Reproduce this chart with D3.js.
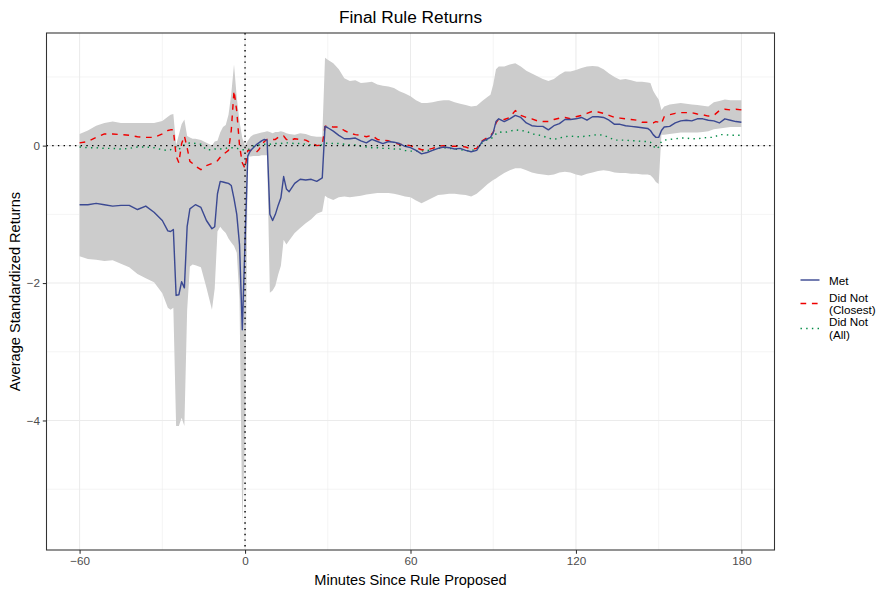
<!DOCTYPE html>
<html>
<head>
<meta charset="utf-8">
<script src="https://cdn.jsdelivr.net/npm/d3@7"></script>
<style>
  body { margin: 0; background: #ffffff; }
  svg { display: block; }
  text { font-family: "Liberation Sans", Arial, Helvetica, sans-serif; }
</style>
</head>
<body>
<svg id="chart" width="885" height="594"></svg>
<script>
// Minutes relative to the rule proposal
const minutes = [
  -60,-57,-54,-51,-48,-45,-42,-39,-36,-33,-30,
  -28,-27,-26,-25,-24,-23,-22,-21,-20,-19,-18,
  -16,-14,-12,
  -11,-10,-9,-8,-7,-6,-5,-4,-3,-2,-1,0,
  1,2,3,4,5,6,7,8,9,10,11,12,13,14,15,16,
  18,20,22,24,26,28,
  29,
  30,32,34,36,38,40,42,44,46,48,50,52,54,56,58,60,62,64,66,68,70,72,74,76,78,80,82,84,86,88,
  89,90,91,92,
  94,96,98,100,102,104,106,108,110,112,114,116,118,120,122,124,126,128,130,132,134,136,138,140,142,144,146,
  147,148,149,150,151,
  152,154,156,158,160,162,164,166,168,170,172,174,176,178,180
];

// Average standardized returns: rule thresholds met
const met = [
  -0.86,-0.86,-0.84,-0.86,-0.88,-0.87,-0.87,-0.93,-0.88,-0.97,-1.09,
  -1.24,-1.25,-1.22,-2.18,-2.17,-1.98,-2.07,-1.18,-0.92,-0.89,-0.86,
  -0.90,-1.09,-1.21,
  -1.18,-0.70,-0.52,-0.53,-0.54,-0.55,-0.58,-0.77,-1.00,-1.44,-2.68,-1.40,
  -0.15,-0.07,-0.03,0.01,0.04,0.07,0.09,0.08,-1.00,-1.09,-1.00,-0.87,-0.76,-0.45,-0.63,-0.67,
  -0.55,-0.49,-0.50,-0.49,-0.52,-0.47,
  0.28,
  0.26,0.21,0.15,0.10,0.10,0.11,0.07,0.04,0.09,0.06,0.03,0.06,0.05,0.03,-0.01,-0.03,-0.07,-0.12,-0.10,-0.07,-0.04,-0.02,-0.03,-0.05,-0.04,-0.07,-0.09,-0.07,0.06,0.10,
  0.12,0.19,0.35,0.39,
  0.35,0.39,0.44,0.41,0.33,0.29,0.28,0.28,0.23,0.29,0.32,0.38,0.38,0.39,0.41,0.37,0.42,0.42,0.41,0.37,0.31,0.31,0.29,0.28,0.27,0.26,0.25,
  0.22,0.16,0.12,0.12,0.22,
  0.27,0.28,0.33,0.36,0.37,0.36,0.39,0.39,0.37,0.36,0.33,0.39,0.37,0.35,0.34
];

// Did not meet: closest comparison group
const closest = [
  0.04,0.06,0.12,0.17,0.17,0.16,0.15,0.13,0.12,0.12,0.17,
  0.22,0.23,0.23,-0.15,-0.25,0.03,0.14,-0.03,-0.23,-0.26,-0.30,
  -0.35,-0.29,-0.26,
  -0.25,-0.22,-0.17,-0.13,-0.10,-0.07,0.22,0.80,0.50,0.00,-0.25,-0.33,
  -0.07,-0.07,-0.09,-0.10,-0.06,0.01,0.06,0.09,0.08,0.09,0.09,0.12,0.12,0.14,0.09,0.07,
  0.10,0.09,0.08,0.04,0.00,0.01,
  0.28,
  0.29,0.27,0.27,0.22,0.18,0.16,0.15,0.13,0.15,0.09,0.08,0.07,0.04,0.02,0.01,0.00,-0.03,-0.06,-0.06,-0.04,-0.01,0.00,-0.01,-0.01,-0.01,-0.02,-0.05,-0.04,0.07,0.12,
  0.15,0.19,0.33,0.39,
  0.38,0.41,0.51,0.44,0.41,0.39,0.36,0.35,0.35,0.38,0.40,0.41,0.39,0.42,0.44,0.47,0.50,0.49,0.47,0.44,0.41,0.40,0.39,0.38,0.37,0.34,0.34,
  0.33,0.33,0.35,0.34,0.32,
  0.42,0.45,0.47,0.48,0.48,0.48,0.46,0.45,0.43,0.44,0.51,0.53,0.52,0.53,0.52
];

// Did not meet: all other cases
const allOthers = [
  -0.02,-0.03,-0.03,-0.04,-0.04,-0.05,-0.04,-0.02,-0.02,-0.03,-0.06,
  -0.07,-0.06,-0.03,-0.02,-0.06,-0.01,0.01,0.03,0.04,0.04,0.03,
  0.02,-0.06,-0.06,
  -0.05,-0.05,-0.05,-0.04,-0.04,-0.03,-0.03,-0.03,-0.04,-0.05,-0.06,-0.06,
  -0.06,-0.04,-0.01,0.00,0.01,0.01,0.02,0.02,0.02,0.03,0.03,0.03,0.03,0.04,0.04,0.04,
  0.03,0.03,0.02,0.01,0.01,0.01,
  0.03,
  0.04,0.03,0.03,0.02,0.01,0.01,-0.01,-0.02,-0.03,-0.03,-0.04,-0.04,-0.05,-0.05,-0.07,-0.08,-0.08,-0.08,-0.07,-0.06,-0.04,-0.03,-0.04,-0.05,-0.06,-0.07,-0.08,-0.04,0.04,0.09,
  0.10,0.12,0.17,0.20,
  0.19,0.21,0.23,0.22,0.21,0.17,0.16,0.14,0.11,0.09,0.11,0.13,0.14,0.13,0.13,0.14,0.15,0.16,0.15,0.12,0.08,0.08,0.08,0.07,0.07,0.06,0.06,
  0.05,0.00,-0.05,-0.02,0.06,
  0.08,0.09,0.10,0.11,0.11,0.10,0.10,0.11,0.12,0.12,0.16,0.16,0.15,0.15,0.15
];

// Confidence band around the "Met" series
const bandHigh = [
  0.17,0.22,0.29,0.33,0.35,0.33,0.33,0.33,0.33,0.33,0.36,
  0.42,0.45,0.46,0.01,0.16,0.31,0.38,0.14,0.12,0.10,0.10,
  0.08,0.04,0.00,
  0.06,0.07,0.19,0.27,0.30,0.45,0.75,1.18,0.70,0.35,0.11,0.00,
  0.07,0.13,0.16,0.17,0.18,0.19,0.20,0.21,0.20,0.18,0.20,0.20,0.21,0.20,0.18,0.17,
  0.16,0.18,0.17,0.14,0.13,0.13,
  1.28,
  1.25,1.20,1.11,0.98,0.94,0.95,0.91,0.92,0.93,0.89,0.87,0.86,0.84,0.79,0.76,0.72,0.66,0.62,0.62,0.63,0.65,0.66,0.66,0.63,0.61,0.59,0.57,0.58,0.65,0.71,
  0.74,0.89,1.11,1.15,
  1.15,1.18,1.20,1.15,1.09,1.05,1.01,0.97,0.94,0.97,1.03,1.08,1.08,1.10,1.13,1.15,1.16,1.15,1.11,1.05,1.00,0.96,0.97,0.95,0.93,0.93,0.92,
  0.91,0.80,0.73,0.67,0.52,
  0.57,0.60,0.61,0.62,0.61,0.60,0.59,0.58,0.57,0.63,0.65,0.67,0.66,0.66,0.66
];

const bandLow = [
  -1.61,-1.65,-1.66,-1.68,-1.67,-1.72,-1.77,-1.87,-1.93,-1.99,-2.15,
  -2.36,-2.39,-2.36,-4.08,-4.08,-3.96,-4.08,-2.40,-1.76,-1.73,-1.74,
  -1.77,-2.07,-2.39,
  -2.08,-1.25,-1.18,-1.23,-1.27,-1.35,-1.41,-1.46,-1.56,-2.24,-5.53,-4.20,
  -0.16,-0.16,-0.15,-0.15,-0.15,-0.14,-0.14,-0.14,-2.14,-2.11,-2.04,-1.88,-1.75,-1.37,-1.44,-1.38,
  -1.27,-1.20,-1.13,-1.07,-0.99,-0.96,
  -0.73,
  -0.76,-0.79,-0.75,-0.74,-0.75,-0.74,-0.73,-0.71,-0.70,-0.69,-0.69,-0.69,-0.70,-0.72,-0.74,-0.75,-0.80,-0.84,-0.80,-0.76,-0.72,-0.71,-0.70,-0.70,-0.71,-0.72,-0.74,-0.70,-0.63,-0.56,
  -0.53,-0.50,-0.48,-0.45,
  -0.40,-0.36,-0.33,-0.33,-0.36,-0.39,-0.41,-0.42,-0.43,-0.42,-0.39,-0.38,-0.39,-0.42,-0.44,-0.41,-0.39,-0.37,-0.36,-0.37,-0.39,-0.40,-0.40,-0.41,-0.41,-0.42,-0.42,
  -0.43,-0.47,-0.53,-0.56,0.16,
  0.16,0.17,0.18,0.19,0.19,0.19,0.19,0.20,0.21,0.24,0.25,0.26,0.27,0.27,0.27
];

const xTicks = [-60, 0, 60, 120, 180];
const xMinor = [-30, 30, 90, 150];
const yTicks = [-4, -2, 0];
const yMinor = [-5, -3, -1, 1];

const seriesNames = ["Met", "Did Not\n(Closest)", "Did Not\n(All)"];
const seriesColors = ["#3B4992", "#EE0000", "#008B45"];
const seriesDash = [null, "5.7,5.7", "1.42,4.27"];

const svg = d3.select("#chart");
const W = 885, H = 594;
const panel = { left: 46.5, right: 774.5, top: 33, bottom: 550 };

const x = d3.scaleLinear().domain([-72, 192]).range([panel.left, panel.right]);
const y = d3.scaleLinear().domain([-5.885, 1.639]).range([panel.bottom, panel.top]);

svg.append("rect").attr("width", W).attr("height", H).attr("fill", "#ffffff");

svg.append("defs").append("clipPath").attr("id", "panel-clip")
  .append("rect")
  .attr("x", panel.left).attr("y", panel.top)
  .attr("width", panel.right - panel.left).attr("height", panel.bottom - panel.top);

// grid
const grid = svg.append("g");
grid.selectAll(".vminor").data(xMinor).join("line")
  .attr("x1", d => x(d)).attr("x2", d => x(d))
  .attr("y1", panel.top).attr("y2", panel.bottom)
  .attr("stroke", "#EBEBEB").attr("stroke-width", 0.55);
grid.selectAll(".hminor").data(yMinor).join("line")
  .attr("y1", d => y(d)).attr("y2", d => y(d))
  .attr("x1", panel.left).attr("x2", panel.right)
  .attr("stroke", "#EBEBEB").attr("stroke-width", 0.55);
grid.selectAll(".vmajor").data(xTicks).join("line")
  .attr("x1", d => x(d)).attr("x2", d => x(d))
  .attr("y1", panel.top).attr("y2", panel.bottom)
  .attr("stroke", "#EBEBEB").attr("stroke-width", 1.07);
grid.selectAll(".hmajor").data(yTicks).join("line")
  .attr("y1", d => y(d)).attr("y2", d => y(d))
  .attr("x1", panel.left).attr("x2", panel.right)
  .attr("stroke", "#EBEBEB").attr("stroke-width", 1.07);

const plot = svg.append("g").attr("clip-path", "url(#panel-clip)");

const rows = minutes.map((m, i) => ({
  m, lo: bandLow[i], hi: bandHigh[i], v: [met[i], closest[i], allOthers[i]]
}));

// confidence band
plot.append("path")
  .datum(rows)
  .attr("fill", "#CCCCCC")
  .attr("d", d3.area().x(d => x(d.m)).y0(d => y(d.lo)).y1(d => y(d.hi)));

// series lines
[2, 1, 0].forEach(k => {
  plot.append("path")
    .datum(rows)
    .attr("fill", "none")
    .attr("stroke", seriesColors[k])
    .attr("stroke-width", 1.42)
    .attr("stroke-dasharray", seriesDash[k])
    .attr("stroke-linejoin", "round")
    .attr("d", d3.line().x(d => x(d.m)).y(d => y(d.v[k])));
});

// reference lines at zero
plot.append("line")
  .attr("x1", panel.left).attr("x2", panel.right)
  .attr("y1", y(0)).attr("y2", y(0))
  .attr("stroke", "#000000").attr("stroke-width", 1.42)
  .attr("stroke-dasharray", "1.42,4.27");
plot.append("line")
  .attr("x1", x(0)).attr("x2", x(0))
  .attr("y1", panel.top).attr("y2", panel.bottom)
  .attr("stroke", "#000000").attr("stroke-width", 1.42)
  .attr("stroke-dasharray", "1.42,4.27");

// panel border
svg.append("rect")
  .attr("x", panel.left).attr("y", panel.top)
  .attr("width", panel.right - panel.left).attr("height", panel.bottom - panel.top)
  .attr("fill", "none").attr("stroke", "#333333").attr("stroke-width", 1.07);

const fmt = d => d < 0 ? "\u2212" + Math.abs(d) : String(d);

// axes
const xAxis = svg.append("g")
  .attr("transform", `translate(0,${panel.bottom})`)
  .call(d3.axisBottom(x).tickValues(xTicks).tickSize(3.7).tickPadding(2.8).tickFormat(fmt));
const yAxis = svg.append("g")
  .attr("transform", `translate(${panel.left},0)`)
  .call(d3.axisLeft(y).tickValues(yTicks).tickSize(3.7).tickPadding(2.8).tickFormat(fmt));
[xAxis, yAxis].forEach(a => {
  a.select(".domain").remove();
  a.selectAll(".tick line").attr("stroke", "#333333").attr("stroke-width", 1.07);
  a.selectAll(".tick text")
    .attr("fill", "#4D4D4D")
    .style("font-size", "11.7px")
    .style("font-family", "'Liberation Sans', Arial, sans-serif");
});

// titles
svg.append("text")
  .attr("x", (panel.left + panel.right) / 2).attr("y", 23)
  .attr("text-anchor", "middle")
  .style("font-size", "17.3px")
  .text("Final Rule Returns");
svg.append("text")
  .attr("x", (panel.left + panel.right) / 2).attr("y", 585)
  .attr("text-anchor", "middle")
  .style("font-size", "14.6px")
  .text("Minutes Since Rule Proposed");
svg.append("text")
  .attr("transform", `translate(20,${(panel.top + panel.bottom) / 2}) rotate(-90)`)
  .attr("text-anchor", "middle")
  .style("font-size", "14.6px")
  .text("Average Standardized Returns");

// legend
const legend = svg.append("g");
const keyY = [280, 303.5, 328.5];
const textLines = [[284.5], [302, 314.3], [326.3, 338.6]];
seriesNames.forEach((name, k) => {
  legend.append("line")
    .attr("x1", 800.5).attr("x2", 819.5)
    .attr("y1", keyY[k]).attr("y2", keyY[k])
    .attr("stroke", seriesColors[k])
    .attr("stroke-width", 1.42)
    .attr("stroke-dasharray", seriesDash[k]);
  const t = legend.append("text")
    .attr("x", 829)
    .style("font-size", "11.7px");
  name.split("\n").forEach((line, j) => {
    t.append("tspan").attr("x", 829).attr("y", textLines[k][j]).text(line);
  });
});
</script>
</body>
</html>
